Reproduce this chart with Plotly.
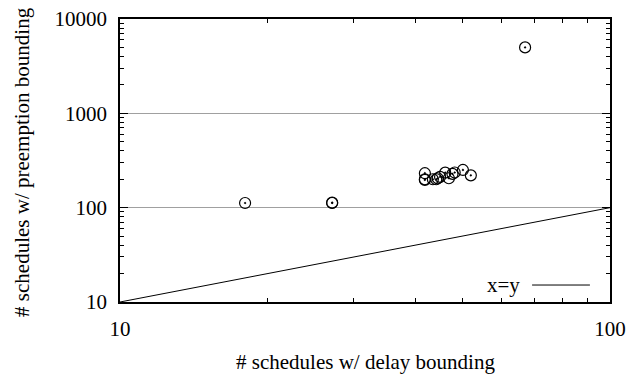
import plotly.graph_objects as go

delay = [18.0, 27.1, 27.1, 41.9, 41.9, 41.9, 43.5, 44.2, 44.5, 45.0, 46.1, 46.9, 47.7, 48.2, 50.1, 52.0, 67.1]
preempt = [112, 112, 113, 232, 200, 197, 200, 200, 205, 212, 235, 205, 228, 236, 251, 220, 5000]
diag_x = [10, 100]
diag_y = [10, 100]
x_ticks = [10, 100]
y_ticks = [10, 100, 1000, 10000]

font = "Liberation Serif"
fs = 21
fig = go.Figure()
fig.add_trace(go.Scatter(x=diag_x, y=diag_y, mode="lines",
                         line=dict(color="black", width=1), showlegend=False, hoverinfo="skip"))
fig.add_trace(go.Scatter(x=delay, y=preempt, mode="markers",
                         marker=dict(symbol="circle-open-dot", size=11, color="black",
                                     line=dict(width=1.2, color="black")),
                         showlegend=False))

axis_common = dict(type="log", showline=True, linecolor="black", linewidth=1.5, mirror="ticks",
                   ticks="inside", ticklen=8, tickcolor="black", zeroline=False, automargin=False,
                   ticklabelstandoff=7, ticklabeloverflow="allow",
                   tickfont=dict(family=font, size=fs, color="black"))
fig.update_xaxes(range=[1, 2], tickvals=x_ticks, ticktext=[str(v) for v in x_ticks], showgrid=False,
                 minor=dict(tickvals=[20, 30, 40, 50, 60, 70, 80, 90], ticks="inside", ticklen=4,
                            tickcolor="black", showgrid=False),
                 **axis_common)
fig.update_yaxes(range=[1, 4], tickvals=y_ticks, ticktext=[str(v) for v in y_ticks],
                 showgrid=True, gridcolor="#a0a0a0", gridwidth=1,
                 minor=dict(tickvals=[v * m for m in (10, 100, 1000) for v in range(2, 10)],
                            ticks="inside", ticklen=4, tickcolor="black", showgrid=False),
                 **axis_common)

fig.add_annotation(x=0.5, y=-0.212, xref="paper", yref="paper", text="# schedules w/ delay bounding",
                   showarrow=False, xanchor="center", yanchor="middle",
                   font=dict(family=font, size=fs, color="black"))
fig.add_annotation(x=-0.200, y=0.495, xref="paper", yref="paper", text="# schedules w/ preemption bounding",
                   showarrow=False, xanchor="center", yanchor="middle", textangle=-90,
                   font=dict(family=font, size=fs, color="black"))

fig.add_annotation(x=0.820, y=0.060, xref="paper", yref="paper", text="x=y", showarrow=False,
                   xanchor="right", yanchor="middle", font=dict(family=font, size=fs, color="black"))
fig.add_shape(type="line", xref="paper", yref="paper", x0=0.841, x1=0.959, y0=0.060, y1=0.060,
              line=dict(color="black", width=1))

fig.update_layout(width=642, height=377, margin=dict(l=112, r=40, t=11, b=83),
                  plot_bgcolor="white", paper_bgcolor="white",
                  font=dict(family=font, size=fs, color="black"))
fig.write_html("out.html")
